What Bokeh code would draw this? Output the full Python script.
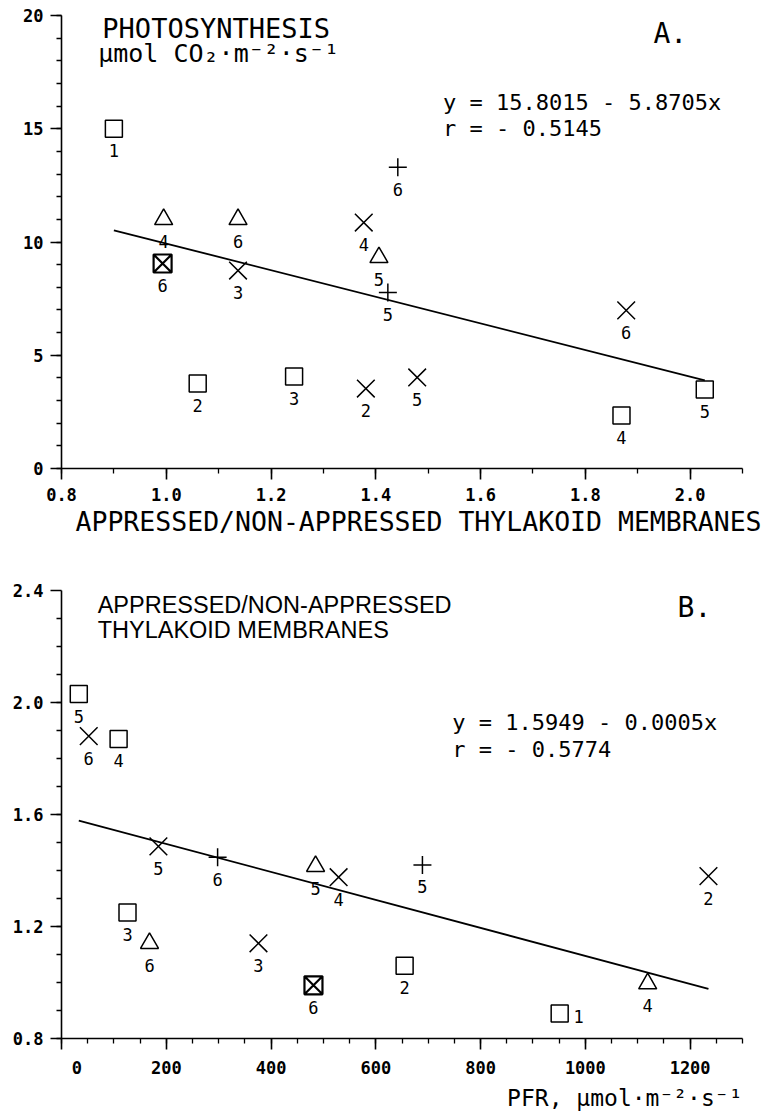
from bokeh.plotting import figure
from bokeh.layouts import column
from bokeh.models import FixedTicker, PrintfTickFormatter, Label, ColumnDataSource, Title
from bokeh.core.properties import value
from bokeh.embed import file_html
from bokeh.resources import INLINE

# ---------------- Panel A data ----------------
a_x = [0.90, 0.995, 1.137, 1.377, 1.442, 0.993, 1.137, 1.406, 1.423, 1.06, 1.244, 1.381, 1.479, 1.878, 2.028, 1.869]
a_y = [15.0, 11.0, 11.0, 10.86, 13.3, 9.05, 8.74, 9.32, 7.77, 3.75, 4.06, 3.53, 4.02, 6.98, 3.49, 2.34]
a_marker = ["square", "triangle", "triangle", "x", "cross", "square_x", "x", "triangle",
            "cross", "square", "square", "x", "x", "x", "square", "square"]
a_label = ["1", "4", "6", "4", "6", "6", "3", "5", "5", "2", "3", "2", "5", "6", "5", "4"]
a_intercept = 15.8015
a_slope = -5.8705
a_r = -0.5145
a_xticks = [0.8, 1.0, 1.2, 1.4, 1.6, 1.8, 2.0]
a_yticks = [0, 5, 10, 15, 20]

# ---------------- Panel B data ----------------
b_x = [33, 52, 109, 185, 298, 485, 529, 126, 168, 376, 481, 655, 689, 951, 1119, 1235]
b_y = [2.03, 1.88, 1.87, 1.486, 1.447, 1.415, 1.376, 1.25, 1.14, 1.14, 0.99, 1.06, 1.42, 0.889, 0.996, 1.38]
b_marker = ["square", "x", "square", "x", "cross", "triangle", "x", "square", "triangle", "x",
            "square_x", "square", "cross", "square", "triangle", "x"]
b_label = ["5", "6", "4", "5", "6", "5", "4", "3", "6", "3", "6", "2", "5", "1", "4", "2"]
b_label_side = ["below"] * 13 + ["right"] + ["below"] * 2
b_intercept = 1.5949
b_slope = -0.0005
b_r = -0.5774
b_xticks = [0, 200, 400, 600, 800, 1000, 1200]
b_yticks = [0.8, 1.2, 1.6, 2.0, 2.4]

MONO = "DejaVu Sans Mono"
MARKER_SIZE = {"square": 17, "triangle": 18, "x": 25, "cross": 18, "square_x": 18}


def style(p):
    p.xgrid.visible = False
    p.ygrid.visible = False
    p.outline_line_color = None
    p.background_fill_color = "white"
    p.border_fill_color = "white"
    for ax in (p.xaxis[0], p.yaxis[0]):
        ax.axis_line_color = "black"
        ax.axis_line_width = 1.6
        ax.major_tick_line_color = "black"
        ax.minor_tick_line_color = "black"
        ax.major_tick_line_width = 1.6
        ax.minor_tick_line_width = 1.3
        ax.major_tick_out = 11
        ax.major_tick_in = 0
        ax.minor_tick_out = 5
        ax.minor_tick_in = 0
        ax.major_label_text_font = MONO
        ax.major_label_text_font_size = "17px"
        ax.major_label_text_font_style = "bold"
        ax.major_label_text_color = "black"
    p.xaxis[0].major_label_standoff = 8
    p.yaxis[0].major_label_standoff = 7


def draw_points(p, xs, ys, markers, labels, sides=None):
    if sides is None:
        sides = ["below"] * len(xs)
    for mk in sorted(set(markers)):
        idx = [i for i, m in enumerate(markers) if m == mk]
        src = ColumnDataSource(dict(x=[xs[i] for i in idx], y=[ys[i] for i in idx]))
        lw = 2.2 if mk == "square_x" else 1.5
        p.scatter("x", "y", source=src, marker=mk, size=MARKER_SIZE[mk], line_color="black",
                  fill_color=None, line_width=lw)
    below = [i for i, s in enumerate(sides) if s == "below"]
    right = [i for i, s in enumerate(sides) if s == "right"]
    sb = ColumnDataSource(dict(x=[xs[i] for i in below], y=[ys[i] for i in below],
                               t=[labels[i] for i in below]))
    p.text("x", "y", text="t", source=sb, y_offset=22, text_align="center",
           text_baseline="middle", text_font=value(MONO), text_font_size="17px",
           text_color="black")
    if right:
        sr = ColumnDataSource(dict(x=[xs[i] for i in right], y=[ys[i] for i in right],
                                   t=[labels[i] for i in right]))
        p.text("x", "y", text="t", source=sr, x_offset=19, y_offset=3, text_align="center",
               text_baseline="middle", text_font=value(MONO), text_font_size="17px",
               text_color="black")


def reg_line(p, xs, b0, b1):
    x0, x1 = min(xs), max(xs)
    p.line([x0, x1], [b0 + b1 * x0, b0 + b1 * x1], line_color="black", line_width=1.8)


def fmt(v):
    return f"{v:.4f}"


# ---------------- Figure A ----------------
pA = figure(width=765, height=545, x_range=(0.8, 2.1), y_range=(0, 20),
            output_backend="svg", toolbar_location=None,
            min_border_left=61, min_border_right=23, min_border_top=15, min_border_bottom=77)
style(pA)
pA.xaxis[0].ticker = FixedTicker(ticks=a_xticks, minor_ticks=[0.8 + 0.1 * i for i in range(14)])
pA.xaxis[0].formatter = PrintfTickFormatter(format="%.1f")
pA.yaxis[0].ticker = FixedTicker(ticks=a_yticks, minor_ticks=list(range(0, 21)))

reg_line(pA, a_x, a_intercept, a_slope)
draw_points(pA, a_x, a_y, a_marker, a_label)

pA.add_layout(Title(text="APPRESSED/NON-APPRESSED THYLAKOID MEMBRANES", align="left", offset=14,
                    standoff=0, text_font=MONO, text_font_size="26.5px",
                    text_font_style="normal", text_color="black"), "below")
pA.add_layout(Label(x=0.878, y=19.43, text="PHOTOSYNTHESIS", text_font=MONO,
                    text_font_size="27px", text_baseline="alphabetic", text_color="black"))
pA.add_layout(Label(x=0.870, y=18.32, text="μmol CO₂·m⁻²·s⁻¹", text_font=MONO,
                    text_font_size="25px", text_baseline="alphabetic", text_color="black"))
pA.add_layout(Label(x=1.93, y=19.2, text="A.", text_font=MONO, text_font_size="28px",
                    text_baseline="middle", text_color="black"))
pA.add_layout(Label(x=1.5285, y=16.16,
                    text=f"y = {fmt(a_intercept)} - {fmt(-a_slope)}x", text_font=MONO,
                    text_font_size="22px", text_baseline="middle", text_color="black"))
pA.add_layout(Label(x=1.5285, y=15.01, text=f"r = - {fmt(-a_r)}", text_font=MONO,
                    text_font_size="22px", text_baseline="middle", text_color="black"))

# ---------------- Figure B ----------------
pB = figure(width=765, height=567, x_range=(0, 1300), y_range=(0.8, 2.4),
            output_backend="svg", toolbar_location=None,
            min_border_left=61, min_border_right=23, min_border_top=45, min_border_bottom=72)
style(pB)
pB.xaxis[0].ticker = FixedTicker(ticks=b_xticks, minor_ticks=list(range(0, 1301, 50)))
pB.xaxis[0].major_label_overrides = {0: "\u00a0\u00a0\u00a00"}
pB.yaxis[0].ticker = FixedTicker(ticks=b_yticks, minor_ticks=[0.8 + 0.1 * i for i in range(17)])
pB.yaxis[0].formatter = PrintfTickFormatter(format="%.1f")

reg_line(pB, b_x, b_intercept, b_slope)
draw_points(pB, b_x, b_y, b_marker, b_label, b_label_side)

pB.add_layout(Label(x=69, y=2.347, text="APPRESSED/NON-APPRESSED", text_font="Liberation Sans",
                    text_font_size="23.5px", text_baseline="alphabetic", text_color="black"))
pB.add_layout(Label(x=69, y=2.258, text="THYLAKOID MEMBRANES", text_font="Liberation Sans",
                    text_font_size="23.5px", text_baseline="alphabetic", text_color="black"))
pB.add_layout(Label(x=1176, y=2.34, text="B.", text_font=MONO, text_font_size="28px",
                    text_baseline="middle", text_color="black"))
pB.add_layout(Label(x=746, y=1.927,
                    text=f"y = {b_intercept:.4f} - {-b_slope:.4f}x", text_font=MONO,
                    text_font_size="22px", text_baseline="middle", text_color="black"))
pB.add_layout(Label(x=746, y=1.831, text=f"r = - {fmt(-b_r)}", text_font=MONO,
                    text_font_size="22px", text_baseline="middle", text_color="black"))
pB.add_layout(Title(text="PFR, μmol·m⁻²·s⁻¹", align="right", standoff=4, text_font=MONO,
                    text_font_size="23px", text_font_style="normal", text_color="black"),
              "below")

layout = column(pA, pB)
open("out.html", "w").write(file_html(layout, INLINE))
